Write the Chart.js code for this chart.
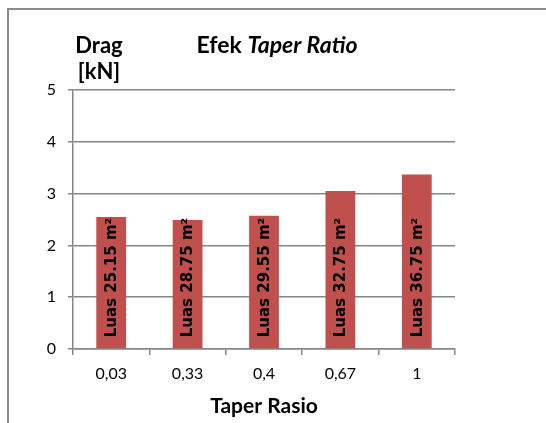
<!DOCTYPE html>
<html>
<head>
<meta charset="utf-8">
<script src="https://cdn.jsdelivr.net/npm/chart.js@4.4.1/dist/chart.umd.min.js"></script>
<style>
  html, body { margin: 0; padding: 0; background: #ffffff; }
  #wrap { width: 546px; height: 423px; position: relative; }
</style>
</head>
<body>
<div id="wrap"><canvas id="c" width="546" height="423"></canvas></div>
<script>
// Taper ratio categories and the drag force measured for each wing
const categories = ['0,03', '0,33', '0,4', '0,67', '1'];
const dragKN = [2.55, 2.49, 2.57, 3.05, 3.37];
const wingAreas = ['25.15', '28.75', '29.55', '32.75', '36.75'];
const yTicks = [0, 1, 2, 3, 4, 5];

const titleLead = 'Efek ';
const titleItalic = 'Taper Ratio';
const yTitleLines = ['Drag', '[kN]'];
const xTitle = 'Taper Rasio';

const barColor = '#C0504D';
const gridColor = '#868686';

// Outer frame, chart title and the stacked y-axis caption
const decorations = {
  id: 'decorations',
  beforeDraw(chart) {
    const ctx = chart.ctx;
    ctx.save();
    ctx.strokeStyle = '#8a8a8a';
    ctx.lineWidth = 2;
    ctx.strokeRect(8, 9, 560, 440);
    ctx.restore();
  },
  afterDraw(chart) {
    const ctx = chart.ctx;
    ctx.save();
    ctx.fillStyle = '#000';
    ctx.textBaseline = 'alphabetic';
    // title: plain lead-in followed by italic words
    const fLead = 'bold 23px Lato';
    const fItal = 'italic bold 23px Lato';
    ctx.font = fLead;
    const w1 = ctx.measureText(titleLead).width;
    ctx.font = fItal;
    const w2 = ctx.measureText(titleItalic).width;
    const cx = 277;
    const x = cx - (w1 + w2) / 2;
    ctx.textAlign = 'left';
    ctx.font = fLead;
    ctx.fillText(titleLead, x, 53);
    ctx.font = fItal;
    ctx.fillText(titleItalic, x + w1, 53);
    // y axis caption
    ctx.font = 'bold 22px Lato';
    ctx.textAlign = 'center';
    ctx.fillText(yTitleLines[0], 99, 53);
    ctx.fillText(yTitleLines[1], 99, 79);
    ctx.restore();
  }
};

// Rotated area labels written inside each bar
const barLabels = {
  id: 'barLabels',
  afterDatasetsDraw(chart) {
    const ctx = chart.ctx;
    const meta = chart.getDatasetMeta(0);
    ctx.save();
    ctx.fillStyle = '#000';
    ctx.font = 'bold 15px "DejaVu Sans"';
    ctx.textAlign = 'left';
    ctx.textBaseline = 'middle';
    meta.data.forEach((bar, i) => {
      ctx.save();
      ctx.translate(bar.x, bar.base - 11);
      ctx.rotate(-Math.PI / 2);
      ctx.fillText('Luas ' + wingAreas[i] + ' m\u00B2', 0, 1);
      ctx.restore();
    });
    ctx.restore();
  }
};

new Chart(document.getElementById('c'), {
  type: 'bar',
  data: {
    labels: categories,
    datasets: [{
      data: dragKN,
      backgroundColor: barColor,
      borderWidth: 0,
      barPercentage: 0.78,
      categoryPercentage: 0.5
    }]
  },
  options: {
    responsive: false,
    animation: false,
    devicePixelRatio: 1,
    layout: { padding: { top: 90, right: 91, left: 0, bottom: 0 } },
    plugins: {
      legend: { display: false },
      tooltip: { enabled: false },
      title: { display: false }
    },
    scales: {
      x: {
        grid: {
          offset: true,
          drawOnChartArea: false,
          drawTicks: true,
          tickLength: 6,
          color: gridColor,
          lineWidth: 1.5
        },
        border: { display: true, color: gridColor, width: 1.5 },
        ticks: {
          color: '#000',
          font: { family: 'Lato', size: 16 },
          padding: 9,
          maxRotation: 0
        },
        title: {
          display: true,
          text: xTitle,
          color: '#000',
          font: { family: 'Lato', size: 21, weight: 'bold' },
          padding: { top: 0, bottom: 4 }
        },
        afterFit(scale) { scale.height = 74; }
      },
      y: {
        min: 0,
        max: 5,
        afterBuildTicks(scale) { scale.ticks = yTicks.map(v => ({ value: v })); },
        grid: {
          color: gridColor,
          lineWidth: 1.5,
          drawTicks: true,
          tickLength: 5
        },
        border: { display: true, color: gridColor, width: 1.5 },
        ticks: {
          color: '#000',
          font: { family: 'Lato', size: 16 },
          padding: 12
        },
        afterFit(scale) { scale.width = 73; }
      }
    }
  },
  plugins: [decorations, barLabels]
});
</script>
</body>
</html>
